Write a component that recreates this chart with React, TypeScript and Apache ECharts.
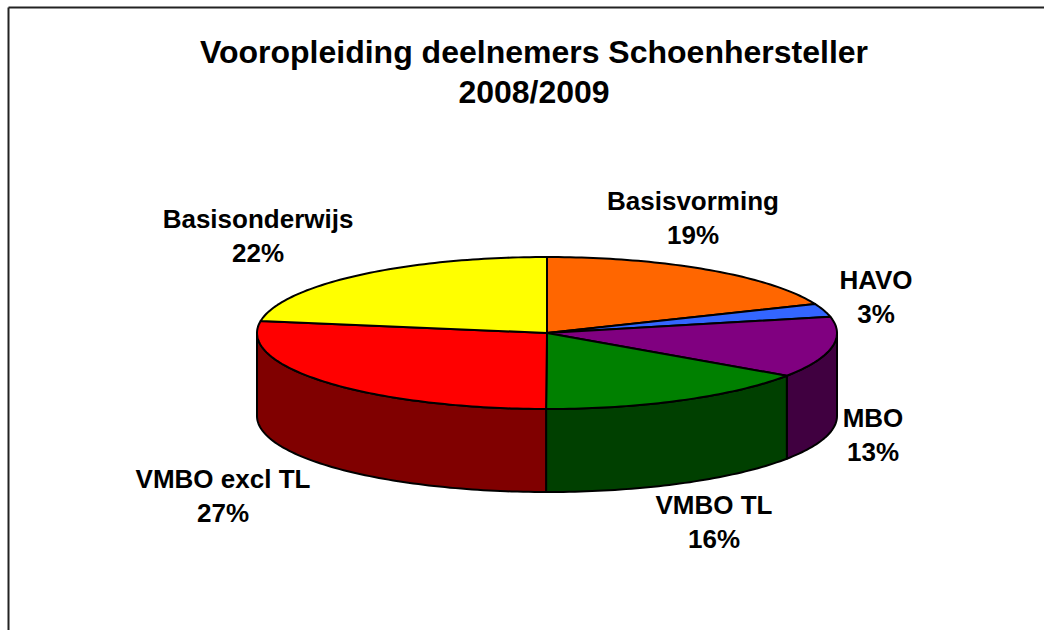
import React, { useEffect, useRef } from "react";
import * as echarts from "echarts";

const TITLE = "Vooropleiding deelnemers Schoenhersteller\n2008/2009";
const categories = ["Basisvorming", "HAVO", "MBO", "VMBO TL", "VMBO excl TL", "Basisonderwijs"];
const shares = [18.7, 2.8, 12.9, 15.5, 27.4, 22.4];
const topColors = ["#FF6600", "#3366FF", "#800080", "#008000", "#FF0000", "#FFFF00"];
const wallColors = ["#803300", "#1A3380", "#400040", "#004000", "#800000", "#808000"];
const labelCentres: [number, number][] = [[693, 218], [876, 297], [873, 435], [714, 522], [223, 496], [258, 236]];

const CX = 547, CY = 333, RX = 290, RY = 76, DEPTH = 83;
const total = shares.reduce((a, b) => a + b, 0);
const px = (a: number) => CX + RX * Math.sin(a);
const py = (a: number) => CY - RY * Math.cos(a);

function arc(a0: number, a1: number, dy = 0): number[][] {
  const n = Math.max(2, Math.ceil(Math.abs(a1 - a0) / 0.02));
  const pts: number[][] = [];
  for (let i = 0; i <= n; i++) {
    const a = a0 + ((a1 - a0) * i) / n;
    pts.push([px(a), py(a) + dy]);
  }
  return pts;
}

function renderItem(params: any, api: any) {
  const i = params.dataIndex;
  let before = 0;
  for (let k = 0; k < i; k++) before += shares[k];
  const a0 = (before / total) * 2 * Math.PI;
  const a1 = ((before + api.value(0)) / total) * 2 * Math.PI;
  const stroke = { stroke: "#000", lineWidth: 2, lineJoin: "round" };
  const children: any[] = [];
  const w0 = Math.max(a0, Math.PI / 2);
  const w1 = Math.min(a1, (3 * Math.PI) / 2);
  if (w1 > w0) {
    children.push({
      type: "polygon",
      z2: 1,
      shape: { points: [...arc(w0, w1), ...arc(w1, w0, DEPTH)] },
      style: { fill: wallColors[i], ...stroke },
    });
  }
  children.push({
    type: "polygon",
    z2: 2,
    shape: { points: [[CX, CY], ...arc(a0, a1)] },
    style: { fill: topColors[i], ...stroke },
  });
  const pct = Math.round((api.value(0) / total) * 100);
  children.push({
    type: "text",
    z2: 3,
    x: labelCentres[i][0],
    y: labelCentres[i][1],
    style: {
      text: `${categories[i]}\n${pct}%`,
      fontFamily: "Liberation Sans",
      fontWeight: "bold",
      fontSize: 26,
      lineHeight: 34,
      fill: "#000",
      align: "center",
      verticalAlign: "middle",
    },
  });
  return { type: "group", children };
}

export default function App() {
  const ref = useRef<HTMLDivElement>(null);
  useEffect(() => {
    const chart = echarts.init(ref.current!, undefined, { renderer: "svg" });
    chart.setOption({
      animation: false,
      backgroundColor: "#fff",
      title: {
        text: TITLE,
        left: 529,
        top: 27,
        textAlign: "center",
        textStyle: {
          fontFamily: "Liberation Sans",
          fontWeight: "bold",
          fontSize: 32,
          lineHeight: 40,
          color: "#000",
        },
      },
      graphic: [
        { type: "line", shape: { x1: 8.5, y1: 7.5, x2: 1044, y2: 7.5 }, style: { stroke: "#222", lineWidth: 2 } },
        { type: "line", shape: { x1: 8.5, y1: 7.5, x2: 8.5, y2: 630 }, style: { stroke: "#222", lineWidth: 2 } },
      ],
      series: [
        {
          type: "custom",
          coordinateSystem: "none",
          renderItem,
          clip: false,
          data: shares.map((v, i) => ({ name: categories[i], value: [v] })),
        },
      ],
    });
    return () => chart.dispose();
  }, []);
  return <div ref={ref} style={{ position: "absolute", left: 0, top: 0, width: 1044, height: 630 }} />;
}
